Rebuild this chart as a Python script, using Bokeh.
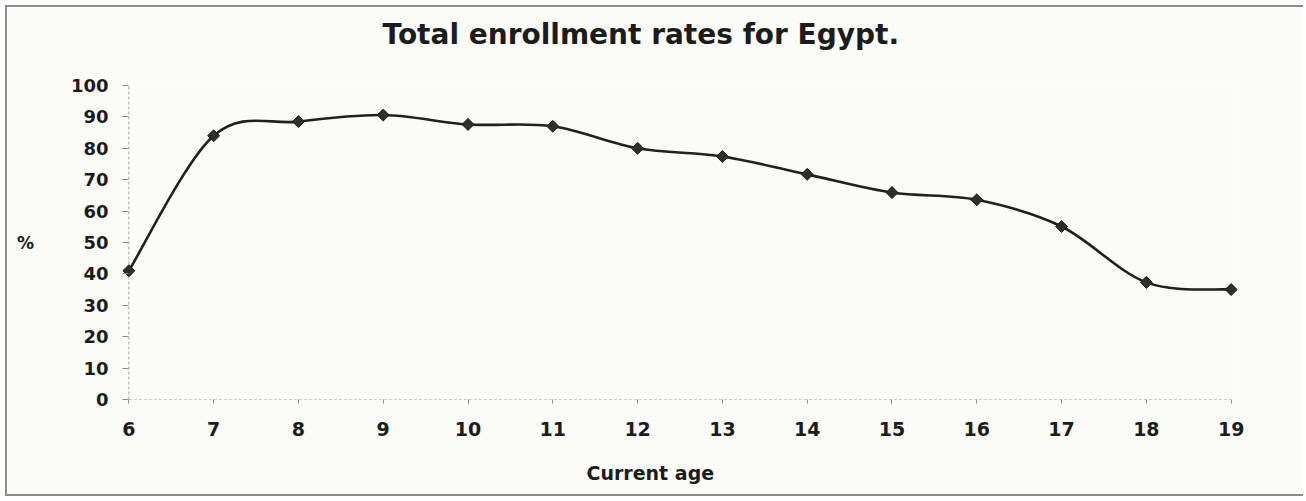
import numpy as np
from bokeh.plotting import figure
from bokeh.models import FixedTicker, Range1d, Title
from bokeh.embed import file_html
from bokeh.resources import INLINE

# ---- data ----
ages = [6, 7, 8, 9, 10, 11, 12, 13, 14, 15, 16, 17, 18, 19]
enrollment = [41, 84, 88.5, 90.6, 87.6, 87, 80, 77.4, 71.7, 65.9, 63.6, 55.1, 37.3, 35]
y_ticks = [0, 10, 20, 30, 40, 50, 60, 70, 80, 90, 100]
title_text = "Total enrollment rates for Egypt."
x_title = "Current age"
y_title = "%"

FONT = "DejaVu Sans"
TXT = "#1c1c1c"
PAD = 0.075  # small room so the end markers are not cut

p = figure(width=1298, height=491, output_backend="svg", toolbar_location=None,
           x_range=Range1d(ages[0] - PAD, ages[-1] + PAD), y_range=Range1d(0, 100),
           min_border_left=115, min_border_right=68, min_border_top=78, min_border_bottom=99,
           background_fill_color="#fbfbf8", border_fill_color="#fbfbf8",
           styles={"margin-left": "5px", "margin-top": "5px",
                   "border-left": "2px solid #8c8c8c", "border-top": "2px solid #8c8c8c",
                   "border-bottom": "2px solid #8c8c8c"})
p.outline_line_color = None
p.grid.grid_line_color = None

# axis lines across the category span only
p.segment(x0=[ages[0]], y0=[0], x1=[ages[-1]], y1=[0], line_color="#9a9a9a",
          line_width=1, line_dash="3 2")
p.segment(x0=[ages[0]], y0=[y_ticks[0]], x1=[ages[0]], y1=[y_ticks[-1]], line_color="#a8a8a8",
          line_width=1, line_dash="3 2")

# smoothed line (Excel-like bezier through the data points)
xs = np.array(ages, dtype=float)
ys = np.array(enrollment, dtype=float)
n = len(xs)
x0, y0, x1, y1, cx0, cy0, cx1, cy1 = ([] for _ in range(8))
for i in range(n - 1):
    im = max(i - 1, 0)
    ip2 = min(i + 2, n - 1)
    x0.append(xs[i]); y0.append(ys[i]); x1.append(xs[i + 1]); y1.append(ys[i + 1])
    cx0.append(xs[i] + (xs[i + 1] - xs[im]) / 6.0)
    cy0.append(ys[i] + (ys[i + 1] - ys[im]) / 6.0)
    cx1.append(xs[i + 1] - (xs[ip2] - xs[i]) / 6.0)
    cy1.append(ys[i + 1] - (ys[ip2] - ys[i]) / 6.0)
p.bezier(x0=x0, y0=y0, x1=x1, y1=y1, cx0=cx0, cy0=cy0, cx1=cx1, cy1=cy1,
         line_color="#202020", line_width=2.6)
p.scatter(ages, enrollment, marker="square", angle=np.pi / 4, size=8.5,
          fill_color="#2e2e2e", line_color="#1e1e1e", line_width=1)

# axes
xa = p.xaxis[0]
xa.ticker = FixedTicker(ticks=ages)
xa.axis_line_color = None
xa.major_tick_line_color = "#8a8a8a"
xa.major_tick_out = 4
xa.major_tick_in = 0
xa.minor_tick_line_color = None
xa.major_label_text_font = FONT
xa.major_label_text_font_style = "bold"
xa.major_label_text_font_size = "19px"
xa.major_label_text_color = TXT
xa.major_label_standoff = 18

ya = p.yaxis[0]
ya.ticker = FixedTicker(ticks=y_ticks)
ya.axis_line_color = None
ya.major_tick_line_color = "#8a8a8a"
ya.major_tick_out = 0
ya.major_tick_in = 6
ya.minor_tick_line_color = None
ya.major_label_text_font = FONT
ya.major_label_text_font_style = "bold"
ya.major_label_text_font_size = "18px"
ya.major_label_text_color = TXT
ya.major_label_standoff = 14
ya.axis_label = y_title
ya.axis_label_orientation = "horizontal"
ya.axis_label_text_font = FONT
ya.axis_label_text_font_style = "bold"
ya.axis_label_text_font_size = "17px"
ya.axis_label_text_color = TXT
ya.axis_label_text_baseline = "bottom"
ya.axis_label_standoff = 34

# titles
p.add_layout(Title(text=title_text, align="left", offset=260, standoff=0,
                   padding=dict(left=0, right=0, top=0, bottom=35),
                   text_font=FONT, text_font_style="bold", text_font_size="28px",
                   text_color=TXT), "above")
p.add_layout(Title(text=x_title, align="left", offset=464, standoff=0,
                   padding=dict(left=0, right=0, top=21, bottom=0),
                   text_font=FONT, text_font_style="bold", text_font_size="19px",
                   text_color=TXT), "below")

open("out.html", "w").write(file_html(p, INLINE))
